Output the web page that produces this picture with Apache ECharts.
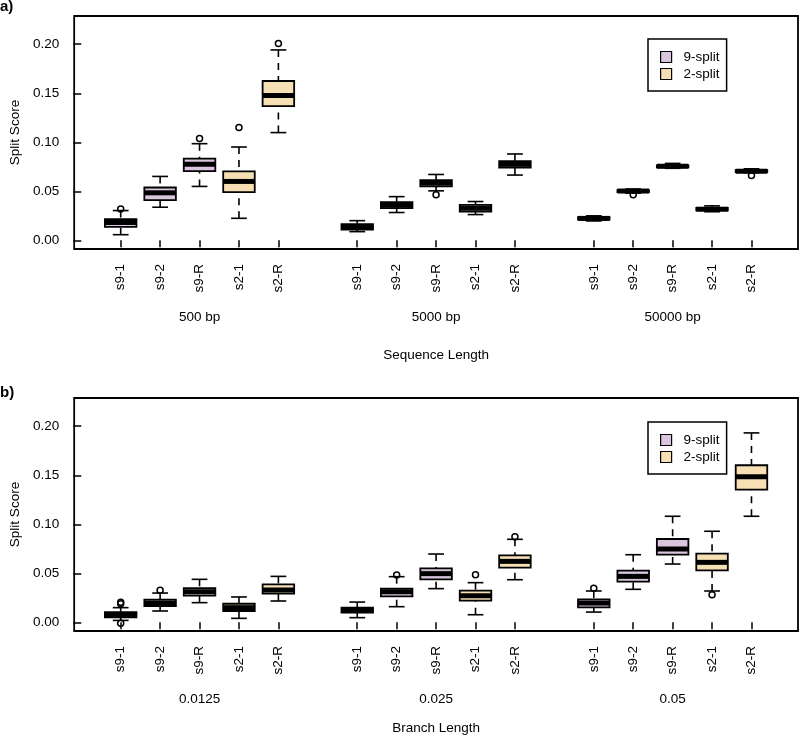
<!DOCTYPE html>
<html>
<head>
<meta charset="utf-8">
<script src="https://cdn.jsdelivr.net/npm/echarts@6/dist/echarts.min.js"></script>
<style>
  html, body { margin: 0; padding: 0; background: #fff; }
  #chart { width: 799px; height: 736px; }
</style>
</head>
<body>
<div id="chart"></div>
<script>
  // box labels inside each group, and which split each belongs to
  var boxLabels = ['s9-1', 's9-2', 's9-R', 's2-1', 's2-R'];
  var splitOf = ['9-split', '9-split', '9-split', '2-split', '2-split'];
  var seqGroups = ['500 bp', '5000 bp', '50000 bp'];
  var branchGroups = ['0.0125', '0.025', '0.05'];
  var yTicks = [0, 0.05, 0.10, 0.15, 0.20];

  // [lower whisker, Q1, median, Q3, upper whisker] per box
  var seq500 = [
    [0.0058, 0.0137, 0.0181, 0.0216, 0.0304],
    [0.0338, 0.0410, 0.0485, 0.0539, 0.0652],
    [0.0550, 0.0706, 0.0775, 0.0833, 0.0986],
    [0.0225, 0.0491, 0.0601, 0.0703, 0.0952],
    [0.1099, 0.1369, 0.1478, 0.1625, 0.1942]
  ];
  var seq5000 = [
    [0.0089, 0.0111, 0.0138, 0.0166, 0.0201],
    [0.0284, 0.0328, 0.0358, 0.0389, 0.0446],
    [0.0505, 0.0550, 0.0584, 0.0614, 0.0672],
    [0.0263, 0.0294, 0.0328, 0.0362, 0.0396],
    [0.0666, 0.0741, 0.0775, 0.0809, 0.0881]
  ];
  var seq50000 = [
    [0.0198, 0.0211, 0.0224, 0.0236, 0.0250],
    [0.0482, 0.0493, 0.0503, 0.0513, 0.0524],
    [0.0735, 0.0745, 0.0755, 0.0765, 0.0785],
    [0.0292, 0.0305, 0.0318, 0.0330, 0.0352],
    [0.0690, 0.0697, 0.0705, 0.0715, 0.0730]
  ];
  // [group, box, value]
  var seqOutliers = [
    [0, 0, 0.0321], [0, 2, 0.1038], [0, 3, 0.1150], [0, 4, 0.2007],
    [1, 2, 0.0464], [2, 1, 0.0465], [2, 4, 0.0662]
  ];

  var br0125 = [
    [0.0020, 0.0051, 0.0078, 0.0105, 0.0150],
    [0.0116, 0.0167, 0.0197, 0.0231, 0.0299],
    [0.0201, 0.0272, 0.0313, 0.0350, 0.0439],
    [0.0041, 0.0116, 0.0150, 0.0190, 0.0259],
    [0.0218, 0.0293, 0.0330, 0.0388, 0.0469]
  ];
  var br025 = [
    [0.0048, 0.0099, 0.0122, 0.0150, 0.0207],
    [0.0160, 0.0265, 0.0313, 0.0344, 0.0466],
    [0.0344, 0.0439, 0.0497, 0.0551, 0.0697],
    [0.0078, 0.0221, 0.0272, 0.0323, 0.0405],
    [0.0435, 0.0558, 0.0622, 0.0684, 0.0847]
  ];
  var br05 = [
    [0.0105, 0.0153, 0.0197, 0.0235, 0.0320],
    [0.0337, 0.0415, 0.0469, 0.0527, 0.0690],
    [0.0595, 0.0690, 0.0748, 0.0850, 0.1082],
    [0.0320, 0.0531, 0.0612, 0.0701, 0.0929],
    [0.1082, 0.1354, 0.1486, 0.1602, 0.1932]
  ];
  var brOutliers = [
    [0, 0, 0.0204], [0, 0, 0.0190], [0, 0, -0.0010], [0, 1, 0.0327],
    [1, 1, 0.0483], [1, 3, 0.0486], [1, 4, 0.0874],
    [2, 0, 0.0347], [2, 3, 0.0282]
  ];

  var colors = { '9-split': '#d9c5dd', '2-split': '#f5dfb3' };
  var font = 'Liberation Sans, Arial, sans-serif';
  var fs = 13.5;

  function pos(g, i) { return 1 + g * 6 + i; }

  function boxData(groups, kind) {
    var out = [];
    groups.forEach(function (grp, g) {
      grp.forEach(function (s, i) {
        if (splitOf[i] === kind) out.push([pos(g, i)].concat(s));
      });
    });
    return out;
  }

  function outlierData(list) {
    return list.map(function (o) { return [pos(o[0], o[1]), o[2]]; });
  }

  function renderBox(params, api) {
    var x = api.value(0);
    var lo = api.coord([x, api.value(1)]);
    var q1 = api.coord([x, api.value(2)]);
    var md = api.coord([x, api.value(3)]);
    var q3 = api.coord([x, api.value(4)]);
    var hi = api.coord([x, api.value(5)]);
    var bw = api.size([0.8, 0])[0];
    var sw = bw / 2;
    var cx = lo[0];
    var stroke = { stroke: '#000', lineWidth: 1.6 };
    return {
      type: 'group',
      children: [
        { type: 'line', shape: { x1: cx, y1: lo[1], x2: cx, y2: q1[1] },
          style: { stroke: '#000', lineWidth: 1.6, lineDash: [7, 6] } },
        { type: 'line', shape: { x1: cx, y1: hi[1], x2: cx, y2: q3[1] },
          style: { stroke: '#000', lineWidth: 1.6, lineDash: [7, 6] } },
        { type: 'line', shape: { x1: cx - sw / 2, y1: lo[1], x2: cx + sw / 2, y2: lo[1] }, style: stroke },
        { type: 'line', shape: { x1: cx - sw / 2, y1: hi[1], x2: cx + sw / 2, y2: hi[1] }, style: stroke },
        { type: 'rect', shape: { x: cx - bw / 2, y: q3[1], width: bw, height: q1[1] - q3[1] },
          style: { fill: api.visual('color'), stroke: '#000', lineWidth: 1.8 } },
        { type: 'line', shape: { x1: cx - bw / 2, y1: md[1], x2: cx + bw / 2, y2: md[1] },
          style: { stroke: '#000', lineWidth: 5 } }
      ]
    };
  }

  function panelAxes(gi, groupNames, title, titleGap) {
    var positions = [];
    for (var g = 0; g < 3; g++) for (var i = 0; i < 5; i++) positions.push(pos(g, i));
    var main = {
      type: 'value', gridIndex: gi, min: -0.18, max: 18.18,
      axisLine: { show: false },
      splitLine: { show: false },
      axisTick: { customValues: positions, length: 7, lineStyle: { color: '#000', width: 1.5 } },
      axisLabel: {
        customValues: positions, rotate: 90, margin: 15,
        color: '#000', fontSize: fs, fontFamily: font,
        formatter: function (v) { return boxLabels[(Math.round(v) - 1) % 6]; }
      }
    };
    var grp = {
      type: 'value', gridIndex: gi, min: -0.18, max: 18.18, position: 'bottom',
      axisLine: { show: false }, axisTick: { show: false }, splitLine: { show: false },
      axisLabel: {
        customValues: [3, 9, 15], margin: 61,
        color: '#000', fontSize: fs, fontFamily: font,
        formatter: function (v) { return groupNames[Math.round((v - 3) / 6)]; }
      },
      name: title, nameLocation: 'middle', nameGap: titleGap,
      nameTextStyle: { color: '#000', fontSize: fs, fontFamily: font }
    };
    return [main, grp];
  }

  function yAxisFor(gi) {
    return {
      type: 'value', gridIndex: gi, min: -0.0088, max: 0.2288,
      axisLine: { show: false }, splitLine: { show: false },
      axisTick: { customValues: yTicks, length: 8, lineStyle: { color: '#000', width: 1.5 } },
      axisLabel: {
        customValues: yTicks, margin: 15, color: '#000', fontSize: fs, fontFamily: font,
        formatter: function (v) { return v.toFixed(2); }
      },
      name: 'Split Score', nameLocation: 'middle', nameGap: 46,
      nameTextStyle: { color: '#000', fontSize: fs, fontFamily: font }
    };
  }

  function legendAt(top) {
    return {
      left: 648, top: top, orient: 'vertical',
      data: ['9-split', '2-split'],
      icon: 'rect', itemWidth: 11, itemHeight: 11, itemGap: 3,
      padding: [11, 7, 10, 12],
      borderColor: '#000', borderWidth: 1.5,
      itemStyle: { borderColor: '#000', borderWidth: 1.2 },
      textStyle: { color: '#000', fontSize: fs, fontFamily: font, lineHeight: 13, padding: [0, 0, 0, 7] },
      selectedMode: false
    };
  }

  function panelSeries(groups, outliers, xi, yi) {
    var list = ['9-split', '2-split'].map(function (kind) {
      return {
        name: kind, type: 'custom', xAxisIndex: xi, yAxisIndex: yi,
        itemStyle: { color: colors[kind] },
        renderItem: renderBox,
        encode: { x: 0, y: [1, 2, 3, 4, 5] },
        data: boxData(groups, kind)
      };
    });
    list.push({
      name: 'outliers', type: 'scatter', xAxisIndex: xi, yAxisIndex: yi,
      symbol: 'circle', symbolSize: 6, z: 5,
      itemStyle: { color: 'rgba(0,0,0,0)', borderColor: '#000', borderWidth: 1.5, opacity: 1 },
      data: outlierData(outliers)
    });
    return list;
  }

  var chart = echarts.init(document.getElementById('chart'), null, { renderer: 'canvas' });
  var xAxes = panelAxes(0, seqGroups, 'Sequence Length', 99).concat(panelAxes(1, branchGroups, 'Branch Length', 90));

  chart.setOption({
    animation: false,
    backgroundColor: '#fff',
    title: [
      { left: 0, top: -1, padding: 0, text: '{b|a}{n|)}',
        textStyle: { rich: { b: { fontWeight: 'bold', fontSize: 15, fontFamily: font, color: '#000' },
                             n: { fontSize: 15, fontFamily: font, color: '#000' } } } },
      { left: 0, top: 385, padding: 0, text: '{b|b}{n|)}',
        textStyle: { rich: { b: { fontWeight: 'bold', fontSize: 15, fontFamily: font, color: '#000' },
                             n: { fontSize: 15, fontFamily: font, color: '#000' } } } }
    ],
    legend: [legendAt(39), legendAt(422)],
    grid: [
      { left: 72, top: 16, width: 726, height: 233, show: true, borderColor: '#000', borderWidth: 1.8, backgroundColor: 'transparent' },
      { left: 72, top: 398, width: 726, height: 233, show: true, borderColor: '#000', borderWidth: 1.8, backgroundColor: 'transparent' }
    ],
    xAxis: xAxes,
    yAxis: [yAxisFor(0), yAxisFor(1)],
    series: panelSeries([seq500, seq5000, seq50000], seqOutliers, 0, 0)
      .concat(panelSeries([br0125, br025, br05], brOutliers, 2, 1))
  });
</script>
</body>
</html>
